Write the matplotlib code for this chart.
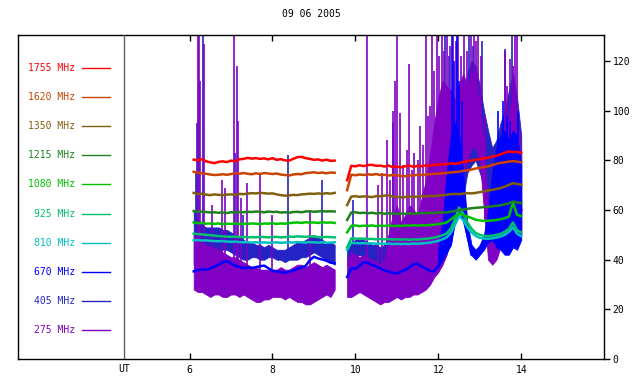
import numpy as np
import matplotlib
matplotlib.use("Agg")
import matplotlib.pyplot as plt

# ---- data ----------------------------------------------------------------
TITLE = "09 06 2005"
LABELS = ["1755 MHz", "1620 MHz", "1350 MHz", "1215 MHz", "1080 MHz",
          "925 MHz", "810 MHz", "670 MHz", "405 MHz", "275 MHz"]
COLORS = ["#ff0000", "#c84400", "#806010", "#208020", "#00c000",
          "#00c070", "#00c0c0", "#0000ff", "#2424c4", "#8000c4"]
UT_POS = 4.42
XTICKS = [6, 8, 10, 12, 14]
YTICKS = [0, 20, 40, 60, 80, 100, 120]

# sample times (hours UT): two observing segments and the late burst
t_a = np.round(np.arange(6.1, 9.51, 0.1), 2)
t_b = np.round(np.arange(9.8, 14.01, 0.1), 2)
t_burst = np.round(np.arange(12.0, 14.01, 0.1), 2)

# smooth channels, segment A (6.1..9.5) and segment B (9.8..14.0)
f1755_a = [80.3, 80.0, 80.5, 79.6, 79.2, 78.9, 79.4, 79.6, 79.3, 79.9,
           79.6, 80.4, 80.6, 81.0, 80.7, 80.9, 80.6, 80.8, 80.4, 80.9,
           80.2, 80.5, 80.0, 79.9, 80.6, 81.3, 81.4, 80.9, 80.6, 80.2,
           80.4, 79.9, 80.3, 79.8, 79.9]
f1755_b = [72.0, 77.8, 77.6, 78.0, 77.7, 78.1, 78.2, 77.8, 77.9, 77.5,
           77.9, 77.3, 77.5, 77.2, 77.6, 77.9, 77.4, 77.8, 77.6, 78.0,
           77.8, 78.3, 78.2, 78.5, 78.4, 78.8, 78.6, 78.9, 79.4, 79.7,
           79.9, 80.3, 80.5, 80.9, 81.0, 81.5, 81.9, 82.4, 83.1, 83.6,
           83.3, 83.5, 83.0]
f1620_a = [75.4, 75.0, 74.8, 74.6, 74.3, 74.1, 74.2, 74.4, 74.2, 74.5,
           74.8, 74.6, 74.9, 74.6, 74.4, 74.8, 74.5, 74.9, 74.7, 74.5,
           74.7, 74.3, 74.1, 73.9, 74.3, 74.5, 74.4, 74.9, 75.0, 75.2,
           74.9, 75.1, 74.8, 75.1, 75.0]
f1620_b = [68.0, 74.2, 74.0, 74.3, 74.1, 74.4, 74.2, 74.5, 74.1, 74.2,
           73.9, 74.1, 74.0, 73.7, 73.6, 73.9, 74.0, 74.2, 74.1, 74.3,
           74.4, 74.6, 74.6, 74.8, 74.9, 75.2, 75.3, 75.4, 75.8, 76.0,
           76.3, 76.7, 77.0, 77.3, 77.6, 78.1, 78.6, 79.0, 79.2, 79.5,
           79.7, 79.5, 79.2]
f1350_a = [66.9, 66.4, 66.6, 66.2, 66.0, 66.3, 66.1, 66.0, 66.2, 66.3,
           66.1, 66.5, 66.4, 66.6, 66.8, 66.7, 66.9, 66.8, 66.6, 66.7,
           66.3, 66.0, 65.8, 65.9, 66.1, 66.0, 66.3, 66.4, 66.6, 66.5,
           66.7, 66.5, 66.8, 66.6, 66.9]
f1350_b = [62.0, 65.4, 65.6, 65.3, 65.5, 65.4, 65.2, 65.6, 65.5, 65.8,
           65.9, 65.4, 65.3, 65.1, 65.2, 65.5, 65.3, 65.4, 65.6, 65.5,
           65.7, 65.6, 65.8, 66.0, 66.1, 66.4, 66.5, 66.4, 66.6, 66.8,
           66.7, 66.9, 67.2, 67.5, 67.9, 68.1, 68.5, 68.8, 69.4, 70.1,
           70.8, 70.5, 70.2]
f1215_a = [59.6, 59.3, 59.4, 59.2, 59.0, 59.1, 58.9, 59.0, 58.8, 59.1,
           59.0, 59.2, 59.1, 59.3, 59.2, 59.4, 59.3, 59.1, 59.4, 59.2,
           59.3, 59.0, 59.1, 58.9, 59.2, 59.3, 59.1, 59.4, 59.5, 59.3,
           59.4, 59.6, 59.4, 59.5, 59.4]
f1215_b = [56.0, 59.0, 59.1, 58.8, 58.9, 58.7, 58.9, 58.6, 58.8, 58.5,
           58.7, 58.6, 58.4, 58.6, 58.5, 58.7, 58.5, 58.6, 58.8, 58.7,
           58.9, 58.8, 59.0, 59.1, 59.0, 59.3, 59.6, 60.0, 60.2, 60.5,
           60.7, 60.9, 61.0, 61.2, 61.3, 61.5, 61.7, 61.9, 62.3, 62.7,
           63.4, 63.1, 62.8]
f1080_a = [55.0, 54.7, 54.8, 54.5, 54.6, 54.4, 54.6, 54.3, 54.5, 54.4,
           54.6, 54.3, 54.5, 54.4, 54.6, 54.5, 54.3, 54.6, 54.5, 54.7,
           54.4, 54.6, 54.5, 54.7, 54.9, 55.0, 54.8, 55.1, 54.9, 55.0,
           54.8, 55.1, 54.9, 55.0, 54.8]
f1080_b = [51.0, 53.6, 53.8, 53.5, 53.7, 53.6, 53.8, 53.5, 53.7, 53.6,
           53.8, 53.5, 53.7, 53.6, 53.8, 53.7, 53.9, 53.7, 53.9, 53.8,
           54.0, 54.1, 54.3, 54.6, 55.0, 56.2, 57.5, 58.5, 58.0, 57.4,
           56.8, 56.1, 55.8, 55.6, 55.7, 55.8, 56.0, 56.3, 56.7, 57.3,
           63.0, 58.0, 57.6]
f925_a = [50.5, 50.3, 50.2, 50.0, 49.9, 49.7, 49.5, 49.4, 49.3, 49.2,
          49.3, 49.1, 49.2, 49.0, 49.1, 49.0, 49.2, 49.1, 49.0, 49.1,
          49.2, 49.0, 49.1, 49.3, 49.2, 49.4, 49.3, 49.2, 49.4, 49.3,
          49.1, 49.0, 49.2, 49.1, 49.0]
f925_b = [45.0, 48.6, 48.5, 48.4, 48.5, 48.3, 48.4, 48.2, 48.3, 48.2,
          48.3, 48.1, 48.2, 48.1, 48.2, 48.0, 48.2, 48.1, 48.3, 48.4,
          48.6, 48.9, 49.3, 49.8, 50.6, 52.5, 56.0, 61.0, 58.5, 55.0,
          52.5, 50.8, 50.0, 49.6, 49.5, 49.7, 50.0, 50.4, 51.2, 52.4,
          55.0, 51.8, 51.0]
f810_a = [47.8, 47.9, 47.7, 47.8, 47.6, 47.5, 47.4, 47.5, 47.3, 47.2,
          47.3, 47.1, 47.0, 47.1, 46.9, 47.0, 46.9, 47.0, 46.8, 46.9,
          47.0, 46.8, 46.9, 47.0, 46.9, 47.1, 47.0, 46.9, 47.1, 47.0,
          46.9, 47.0, 46.8, 46.9, 47.0]
f810_b = [44.0, 46.8, 46.7, 46.6, 46.7, 46.5, 46.6, 46.4, 46.5, 46.4,
          46.5, 46.3, 46.4, 46.3, 46.4, 46.3, 46.5, 46.4, 46.6, 46.7,
          46.9, 47.2, 47.6, 48.2, 49.0, 50.8, 54.0, 57.5, 56.0, 53.0,
          51.0, 49.6, 48.8, 48.5, 48.4, 48.6, 48.9, 49.3, 50.0, 51.2,
          53.0, 50.5, 49.5]
f670_a = [35.3, 35.8, 36.2, 35.9, 36.6, 37.2, 38.0, 39.0, 39.4, 38.6,
          37.5, 37.2, 36.5, 36.8, 36.7, 37.0, 37.4, 37.6, 36.6, 35.5,
          35.3, 35.0, 34.8, 35.2, 35.6, 36.3, 36.8, 37.5, 39.8, 41.2,
          40.5, 40.1, 39.6, 38.8, 38.6]
f670_b = [33.0, 36.5, 36.3, 37.5, 39.0, 38.8, 37.8, 37.3, 36.5, 35.8,
          35.2, 34.7, 34.5, 35.2, 35.9, 36.8, 38.2, 38.4, 37.2, 36.5,
          35.5, 35.3, 37.5, 40.0, 43.0, 46.0, 58.0, 70.0, 62.0, 50.0,
          42.0, 41.0, 43.0, 45.5, 50.0, 56.0, 62.0, 66.0, 72.0, 70.0,
          75.0, 68.0, 60.0]
# 670 MHz burst envelope (12.0..14.0)
f670_burst_lo = [37, 40, 43, 46, 55, 62, 55, 48, 42, 40, 42,
                 44, 47, 48, 45, 44, 42, 42, 45, 44, 48]
f670_burst_hi = [45, 55, 75, 90, 95, 90, 75, 55, 46, 44, 46,
                 50, 60, 75, 85, 90, 92, 88, 92, 90, 78]

# noisy channels: lower / upper envelope of the trace
f405_a_lo = [38, 40, 42, 42, 41, 42, 43, 44, 44, 43, 42, 41, 40, 40, 41,
             41, 40, 40, 41, 41, 40, 40, 39, 40, 40, 40, 41, 41, 42, 43,
             42, 41, 40, 39, 38]
f405_a_hi = [60, 56, 54, 53, 53, 53, 53, 52, 52, 51, 50, 49, 48, 47, 47,
             46, 46, 45, 46, 45, 44, 44, 44, 45, 46, 47, 47, 48, 49, 50,
             49, 48, 47, 47, 46]
f405_b_lo = [38, 40, 41, 42, 41, 40, 40, 39, 38, 38, 37, 37, 37, 38, 39,
             40, 41, 40, 39, 39, 40, 41, 42, 44, 48, 52, 56, 58, 65, 75,
             78, 80, 75, 70, 60, 52, 50, 50, 50, 52, 55, 54, 52]
f405_b_hi = [44, 47, 48, 49, 48, 47, 46, 46, 45, 46, 50, 52, 55, 52, 55,
             58, 60, 58, 56, 60, 65, 70, 85, 95, 100, 98, 92, 88, 95, 115,
             120, 118, 110, 100, 92, 85, 88, 95, 100, 108, 115, 105, 90]
f275_a_lo = [28, 27, 27, 26, 25, 26, 26, 25, 25, 26, 26, 25, 26, 25, 24,
             23, 23, 24, 24, 25, 25, 25, 24, 25, 24, 23, 23, 22, 22, 23,
             24, 25, 26, 25, 28]
f275_a_hi = [50, 48, 47, 46, 45, 45, 44, 43, 42, 41, 41, 40, 39, 38, 37,
             37, 36, 36, 36, 36, 36, 37, 36, 36, 37, 38, 38, 37, 38, 39,
             38, 37, 38, 37, 36]
f275_b_lo = [25, 25, 26, 27, 26, 25, 24, 23, 22, 23, 23, 24, 25, 24, 25,
             25, 26, 26, 27, 28, 30, 33, 35, 38, 42, 48, 55, 65, 75, 80,
             85, 85, 80, 60, 40, 38, 40, 45, 48, 50, 52, 50, 50]
f275_b_hi = [40, 43, 42, 41, 42, 41, 40, 39, 38, 40, 50, 58, 62, 55, 58,
             62, 60, 58, 65, 72, 82, 95, 105, 112, 110, 108, 104, 110, 115, 110,
             116, 112, 104, 85, 62, 58, 62, 72, 88, 98, 105, 98, 82]

# isolated spikes (time, peak value)
spikes_405 = [(6.15, 75), (6.19, 95), (6.33, 130), (7.10, 83), (7.28, 58),
              (8.37, 82), (9.19, 72), (9.95, 64), (10.90, 95), (12.15, 130),
              (12.25, 122), (12.75, 130), (12.83, 126), (13.05, 128),
              (13.62, 125), (13.78, 130), (13.83, 112)]
spikes_670 = [(12.32, 130), (12.38, 120), (12.44, 130), (12.50, 112),
              (12.58, 104), (13.45, 100), (13.55, 104), (13.66, 98),
              (13.74, 96), (13.92, 100)]
spikes_275 = [(6.20, 130), (6.23, 130), (6.25, 112), (6.35, 127), (6.55, 62),
              (6.79, 72), (6.85, 69), (7.08, 130), (7.15, 118), (7.17, 96),
              (7.25, 65), (7.38, 71), (7.70, 74), (8.00, 58), (8.90, 60),
              (10.27, 130), (10.55, 70), (10.65, 75), (10.76, 88), (10.84, 72),
              (10.90, 100), (10.96, 112), (11.00, 130), (11.08, 99), (11.16, 78),
              (11.24, 84), (11.30, 119), (11.36, 76), (11.42, 83), (11.50, 80),
              (11.56, 94), (11.63, 86), (11.71, 130), (11.76, 98), (11.80, 102),
              (11.85, 130), (11.90, 116), (11.96, 130), (12.02, 122),
              (12.08, 130), (12.14, 124), (12.22, 130), (12.28, 126),
              (12.36, 130), (12.42, 128), (12.48, 130), (12.55, 122),
              (12.62, 130), (12.68, 124), (12.78, 130), (12.85, 130),
              (12.90, 128), (12.95, 130), (13.02, 122), (13.12, 98),
              (13.60, 124), (13.66, 110), (13.72, 121), (13.80, 118),
              (13.86, 130), (13.90, 130), (13.98, 92)]

smooth = [(f1755_a, f1755_b), (f1620_a, f1620_b), (f1350_a, f1350_b),
          (f1215_a, f1215_b), (f1080_a, f1080_b), (f925_a, f925_b),
          (f810_a, f810_b), (f670_a, f670_b)]


def spike_base(times, lo_a, lo_b):
    # spikes rise from the bottom of the noise band at that time
    times = np.asarray(times)
    return np.where(times < 9.65, np.interp(times, t_a, lo_a),
                    np.interp(times, t_b, lo_b))


# ---- figure ----------------------------------------------------------------
MONO = "DejaVu Sans Mono"
plt.rcParams["font.family"] = MONO
plt.rcParams["font.size"] = 7

fig = plt.figure(figsize=(6.4, 3.84), dpi=100)
ax = fig.add_axes([0.028, 0.065, 0.916, 0.844])
ax.set_xlim(1.86, 16.0)
ax.set_ylim(0, 130.5)

c405, c275, c670 = COLORS[8], COLORS[9], COLORS[7]
ax.fill_between(t_a, f405_a_lo, f405_a_hi, color=c405, lw=0.6, zorder=1)
ax.fill_between(t_b, f405_b_lo, f405_b_hi, color=c405, lw=0.6, zorder=1)
st, sv = zip(*spikes_405)
ax.vlines(st, spike_base(st, f405_a_lo, f405_b_lo), sv, color=c405,
          lw=1.2, zorder=1)

ax.fill_between(t_a, f275_a_lo, f275_a_hi, color=c275, lw=0.6, zorder=2)
ax.fill_between(t_b, f275_b_lo, f275_b_hi, color=c275, lw=0.6, zorder=2)
st, sv = zip(*spikes_275)
ax.vlines(st, spike_base(st, f275_a_lo, f275_b_lo), sv, color=c275,
          lw=1.2, zorder=2)

ax.fill_between(t_burst, f670_burst_lo, f670_burst_hi, color=c670,
                lw=0.6, zorder=3)
st, sv = zip(*spikes_670)
ax.vlines(st, np.interp(st, t_burst, f670_burst_lo), sv, color=c670,
          lw=1.2, zorder=3)

for i in range(len(smooth) - 1, -1, -1):
    seg_a, seg_b = smooth[i]
    ax.plot(t_a, seg_a, color=COLORS[i], lw=1.8, zorder=4 + (8 - i))
    ax.plot(t_b, seg_b, color=COLORS[i], lw=1.8, zorder=4 + (8 - i))

# UT marker line
ax.axvline(UT_POS, color="#606060", lw=1.0, zorder=20)

# legend on the left
for i, (lab, col) in enumerate(zip(LABELS, COLORS)):
    yy = 0.898 - i * 0.0898
    ax.text(0.097, yy, lab, color=col, ha="right", va="center",
            transform=ax.transAxes, fontsize=7)
    ax.plot([0.109, 0.157], [yy, yy], color=col, lw=1.0,
            transform=ax.transAxes, zorder=20)

ax.set_title(TITLE, fontsize=7, pad=13)

ax.set_xticks(XTICKS)
ax.set_xticklabels([str(x) for x in XTICKS])
ax.tick_params(axis="x", direction="in", length=4, width=1, top=True,
               bottom=True, pad=4)
ax.text(UT_POS, -0.015, "UT", ha="center", va="top", fontsize=7,
        transform=ax.get_xaxis_transform())

ax.yaxis.tick_right()
ax.set_yticks(YTICKS)
ax.tick_params(axis="y", direction="out", length=4, width=1, left=False,
               right=True, pad=2)
for sp in ax.spines.values():
    sp.set_linewidth(1.0)

fig.savefig("out.png", dpi=100)
